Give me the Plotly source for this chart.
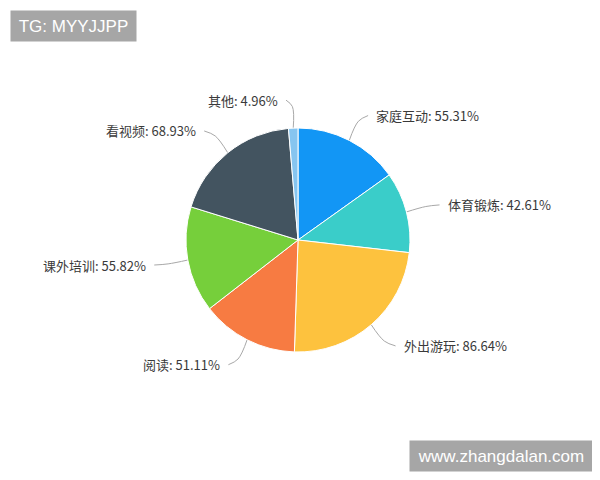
import math
import plotly.graph_objects as go

# data (the labels show these numbers with a % sign)
categories = ["家庭互动", "体育锻炼", "外出游玩", "阅读", "课外培训", "看视频", "其他"]
values = [55.31, 42.61, 86.64, 51.11, 55.82, 68.93, 4.96]
colors = ["#1296f5", "#3acdc9", "#fdc23e", "#f77b42", "#76cf3b", "#435460", "#86c5f0"]

W, H = 600, 480
PAD = 8                      # the page's body margin shifts the figure by this much
cx, cy, R = 298 - PAD, 240 - PAD, 112   # pie centre and radius in pixels

fig = go.Figure()

fig.add_trace(go.Pie(
    labels=categories,
    values=values,
    sort=False,
    direction="clockwise",
    rotation=0,
    textinfo="none",
    hoverinfo="label+value",
    marker=dict(colors=colors, line=dict(color="white", width=1)),
    domain=dict(x=[(cx - R) / W, (cx + R) / W], y=[(H - cy - R) / H, (H - cy + R) / H]),
    showlegend=False,
))

# leader lines and labels, placed from each slice's mid angle
total = sum(values)
cum = 0
annotations = []
for cat, val in zip(categories, values):
    mid = (cum + val / 2) / total * 2 * math.pi
    cum += val
    s, c = math.sin(mid), math.cos(mid)
    side = 1 if s >= 0 else -1
    x0, y0 = cx + R * s, cy - R * c
    x1, y1 = cx + 132 * s, cy - 132 * c
    y2 = cy - 140 * c
    x2 = cx + 140 * s + side * 6
    fig.add_trace(go.Scatter(
        x=[x0, x1, x2], y=[y0, (y1 + y2) / 2 + (y1 - y2) * 0.3, y2],
        mode="lines", line=dict(color="#a8a8a8", width=1, shape="spline"),
        hoverinfo="skip", showlegend=False,
    ))
    annotations.append(dict(
        x=x2 + side * 6, y=y2, xref="x", yref="y",
        text=f"{cat}: {val:.2f}%", showarrow=False,
        xanchor="left" if side > 0 else "right", yanchor="middle",
        font=dict(family="Noto Sans CJK SC", size=13, color="#3a3a3a"),
    ))

# watermark boxes
annotations.append(dict(
    x=10 - PAD, y=10 - PAD, xref="x", yref="y", xanchor="left", yanchor="top",
    text="TG: MYYJJPP", showarrow=False, bgcolor="#a6a6a6",
    width=117, height=22, borderpad=4,
    font=dict(family="Liberation Sans", size=17, color="white"),
))
annotations.append(dict(
    x=593 - PAD, y=440 - PAD, xref="x", yref="y", xanchor="right", yanchor="top",
    text="www.zhangdalan.com", showarrow=False, bgcolor="#a6a6a6",
    width=174, height=22, borderpad=4,
    font=dict(family="Liberation Sans", size=17, color="white"),
))

fig.update_layout(
    width=W, height=H,
    margin=dict(l=0, r=0, t=0, b=0),
    paper_bgcolor="white", plot_bgcolor="white",
    xaxis=dict(range=[0, W], visible=False, fixedrange=True),
    yaxis=dict(range=[H, 0], visible=False, fixedrange=True),
    annotations=annotations,
)

fig.write_html("out.html")
